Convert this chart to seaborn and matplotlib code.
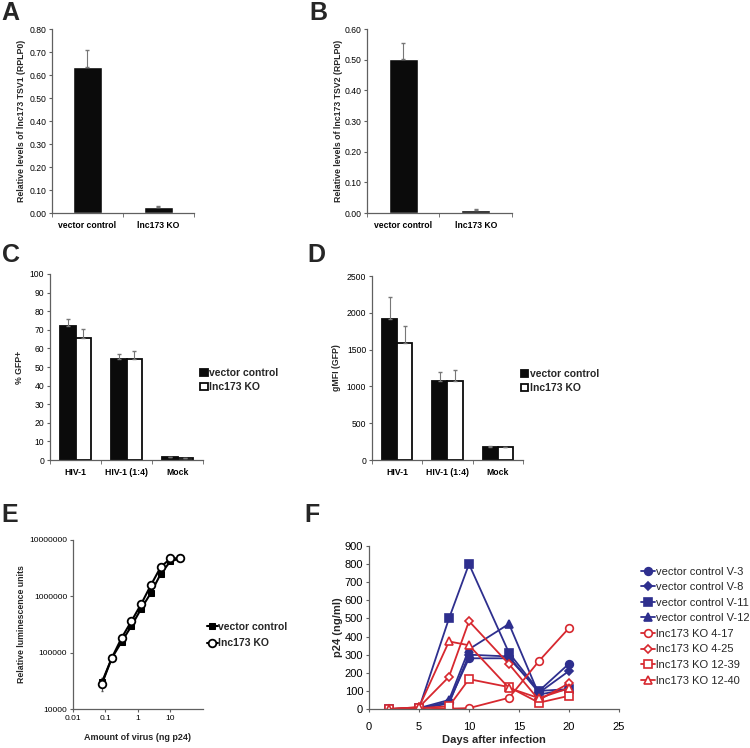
import numpy as np
import pandas as pd
import matplotlib
matplotlib.use("Agg")
import matplotlib.pyplot as plt
import seaborn as sns

sns.set_style("ticks")
plt.rcParams['font.family'] = ['Liberation Sans', 'DejaVu Sans']

# ---- data ----
ab_groups = ['vector control', 'lnc173 KO']
a_vals = [0.633, 0.026]
a_err = [0.077, 0.006]
b_vals = [0.502, 0.010]
b_err = [0.052, 0.003]

cd_groups = ['HIV-1', 'HIV-1 (1:4)', 'Mock']
cd_hue = ['vector control', 'lnc173 KO']
c_vc = [72.0, 54.1, 1.6]
c_vc_err = [3.6, 2.7, 0.0]
c_ko = [65.8, 54.3, 1.1]
c_ko_err = [4.5, 4.1, 0.0]
d_vc = [1920, 1078, 177]
d_vc_err = [300, 122, 8]
d_ko = [1594, 1080, 175]
d_ko_err = [226, 138, 6]

e_x = [0.078, 0.156, 0.3125, 0.625, 1.25, 2.5, 5, 10, 20]
e_vc = [30000, 80000, 155000, 296000, 600000, 1150000, 2500000, 4200000, 4700000]
e_vc_err = [5000, 4000, 8000, 10000, 20000, 40000, 80000, 100000, 100000]
e_ko = [28000, 80000, 182000, 360000, 725000, 1580000, 3300000, 4700000, 4750000]
e_ko_err = [7000, 4000, 8000, 10000, 20000, 40000, 80000, 100000, 100000]

f_days = [2, 5, 8, 10, 14, 17, 20]
f_names = ['vector control V-3', 'vector control V-8', 'vector control V-11',
           'vector control V-12', 'lnc173 KO 4-17', 'lnc173 KO 4-25',
           'lnc173 KO 12-39', 'lnc173 KO 12-40']
f_v3 = [0, 2, 40, 280, 280, 100, 250]
f_v8 = [0, 2, 30, 300, 290, 90, 210]
f_v11 = [0, 3, 500, 800, 310, 100, 110]
f_v12 = [0, 5, 50, 330, 470, 80, 110]
f_k417 = [0, 8, 2, 5, 62, 265, 447]
f_k425 = [0, 10, 178, 485, 248, 50, 142]
f_k1239 = [0, 5, 15, 165, 121, 35, 73]
f_k1240 = [0, 10, 373, 352, 116, 60, 115]

BLUE = '#2E2F8E'
RED = '#D7282F'
AXC = '#606060'
TICK = 6.2

fig = plt.figure(figsize=(7.5, 7.48), dpi=100)


def style_axes(ax, fs=TICK):
    sns.despine(ax=ax)
    for s in ['left', 'bottom']:
        ax.spines[s].set_color(AXC)
        ax.spines[s].set_linewidth(0.9)
    ax.tick_params(axis='both', colors=AXC, labelcolor='black', labelsize=fs,
                   length=2.2, width=0.8, pad=2, direction='out')


def category_axis(ax, n):
    ax.set_xlim(-0.5, n - 0.5)
    ax.set_xticks(np.arange(-0.5, n, 1.0), minor=True)
    ax.tick_params(axis='x', which='major', length=0, pad=6)
    ax.tick_params(axis='x', which='minor', length=3, color=AXC)
    for t in ax.get_xticklabels():
        t.set_fontweight('bold')
    ax.set_xlabel('')


def single_bars(rect, vals, err, ymax, ylabel, lab_x):
    ax = fig.add_axes(rect)
    sns.barplot(x=ab_groups, y=vals, color='#0b0b0b', width=0.4,
                saturation=1, ax=ax)
    ax.errorbar(range(len(vals)), vals, yerr=[np.zeros(len(err)), err],
                fmt='none', ecolor='#777777', elinewidth=0.8, capsize=1.2)
    style_axes(ax)
    category_axis(ax, len(vals))
    ax.set_ylim(0, ymax)
    ax.set_yticks(np.arange(0, ymax + 1e-9, 0.1))
    ax.yaxis.set_major_formatter(matplotlib.ticker.FormatStrFormatter('%.2f'))
    ax.set_ylabel(ylabel, fontsize=6.3, fontweight='bold')
    ax.yaxis.set_label_coords(lab_x, 0.5)
    return ax


def paired_bars(rect, vc, vc_err, ko, ko_err, ymax, step, ylabel, lab_x, leg_x):
    ax = fig.add_axes(rect)
    df = pd.DataFrame({
        'group': cd_groups * 2,
        'cond': [cd_hue[0]] * 3 + [cd_hue[1]] * 3,
        'value': vc + ko,
    })
    sns.barplot(data=df, x='group', y='value', hue='cond', hue_order=cd_hue,
                palette=['#0b0b0b', 'white'], edgecolor='#0b0b0b',
                linewidth=1.3, width=0.6, saturation=1, ax=ax)
    for cont, vals, err in zip(ax.containers, [vc, ko], [vc_err, ko_err]):
        xs = [b.get_x() + b.get_width() / 2 for b in cont]
        ax.errorbar(xs, vals, yerr=[np.zeros(len(err)), err], fmt='none',
                    ecolor='#777777', elinewidth=0.8, capsize=1.2)
    style_axes(ax)
    category_axis(ax, 3)
    ax.set_ylim(0, ymax)
    ax.set_yticks(np.arange(0, ymax + 1, step))
    ax.set_ylabel(ylabel, fontsize=6.3, fontweight='bold')
    ax.yaxis.set_label_coords(lab_x, 0.5)
    sns.move_legend(ax, 'upper left', bbox_to_anchor=(leg_x, 0.515),
                    frameon=False, title=None, handlelength=0.7,
                    handleheight=0.7, handletextpad=0.15, labelspacing=0.35,
                    borderaxespad=0, prop={'weight': 'bold', 'size': 7.5})
    return ax


# A
single_bars([0.0693, 0.7152, 0.1893, 0.246], a_vals, a_err, 0.8,
            'Relative levels of lnc173 TSV1 (RPLP0)', -0.183)
# B
single_bars([0.4893, 0.7152, 0.1933, 0.246], b_vals, b_err, 0.6,
            'Relative levels of lnc173 TSV2 (RPLP0)', -0.166)
# C
paired_bars([0.0667, 0.385, 0.204, 0.2487], c_vc, c_vc_err, c_ko, c_ko_err,
            100, 10, '% GFP+', -0.17, 0.955)
# D
paired_bars([0.496, 0.385, 0.2013, 0.246], d_vc, d_vc_err, d_ko, d_ko_err,
            2500, 500, 'gMFI (GFP)', -0.205, 0.96)

# E
axE = fig.add_axes([0.0973, 0.0521, 0.1733, 0.226])
axE.errorbar(e_x, e_vc, yerr=e_vc_err, fmt='none', ecolor='#555555',
             elinewidth=0.8, capsize=1)
axE.errorbar(e_x, e_ko, yerr=e_ko_err, fmt='none', ecolor='#555555',
             elinewidth=0.8, capsize=1)
sns.lineplot(x=e_x, y=e_vc, ax=axE, color='black', linewidth=1.5, marker='s',
             markersize=5, markerfacecolor='black', markeredgecolor='black',
             label='vector control')
sns.lineplot(x=e_x, y=e_ko, ax=axE, color='black', linewidth=1.5, marker='o',
             markersize=5.5, markerfacecolor='white', markeredgecolor='black',
             markeredgewidth=1.3, label='lnc173 KO')
axE.set_xscale('log')
axE.set_yscale('log')
axE.set_xlim(0.01, 100)
axE.set_ylim(1e4, 1e7)
axE.set_xticks([0.01, 0.1, 1, 10])
axE.set_xticklabels(['0.01', '0.1', '1', '10'])
axE.set_yticks([1e4, 1e5, 1e6, 1e7])
axE.set_yticklabels(['10000', '100000', '1000000', '10000000'])
axE.minorticks_off()
style_axes(axE, fs=6)
axE.set_xlabel('Amount of virus (ng p24)', fontsize=6.5, fontweight='bold',
               labelpad=8)
axE.set_ylabel('Relative luminescence units', fontsize=6.3, fontweight='bold')
axE.yaxis.set_label_coords(-0.36, 0.5)
axE.legend(loc='upper left', bbox_to_anchor=(1.0, 0.54), frameon=False,
           handlelength=1.0, handletextpad=0.05, labelspacing=0.6,
           borderaxespad=0, prop={'weight': 'bold', 'size': 7.5})

# F
axF = fig.add_axes([0.492, 0.0521, 0.3333, 0.218])
f_series = [f_v3, f_v8, f_v11, f_v12, f_k417, f_k425, f_k1239, f_k1240]
f_markers = ['o', 'D', 's', '^', 'o', 'D', 's', '^']
f_sizes = [6.5, 5, 7, 6, 6.5, 5, 6.5, 6.5]
for i, (name, vals) in enumerate(zip(f_names, f_series)):
    col = BLUE if i < 4 else RED
    face = BLUE if i < 4 else 'white'
    sns.lineplot(x=f_days, y=vals, ax=axF, color=col, linewidth=1.3,
                 marker=f_markers[i], markersize=f_sizes[i],
                 markerfacecolor=face, markeredgecolor=col,
                 markeredgewidth=1.2, label=name)
axF.set_xlim(0, 25)
axF.set_ylim(0, 900)
axF.set_xticks(np.arange(0, 26, 5))
axF.set_yticks(np.arange(0, 901, 100))
style_axes(axF, fs=8)
axF.tick_params(axis='x', pad=7)
axF.set_xlabel('Days after infection', fontsize=8, fontweight='bold',
               labelpad=2)
axF.set_ylabel('p24 (ng/ml)', fontsize=8, fontweight='bold')
axF.yaxis.set_label_coords(-0.105, 0.5)
handles, labels = axF.get_legend_handles_labels()
for h in handles:
    h.set_markersize(h.get_markersize() * 0.85)
axF.legend(handles, labels, loc='upper left', bbox_to_anchor=(1.07, 0.9),
           frameon=False, handlelength=1.3, handletextpad=0.1,
           labelspacing=0.5, borderaxespad=0, prop={'size': 8})

# panel letters
for letter, x, y in [('A', 1, 13.5), ('B', 309, 13.5), ('C', 2, 254.5),
                     ('D', 307, 254.5), ('E', 1, 515), ('F', 304, 515)]:
    fig.text(x / 750, 1 - y / 748, letter, fontsize=18, fontweight='bold',
             ha='left', va='center')

fig.savefig('out.png', dpi=100)
